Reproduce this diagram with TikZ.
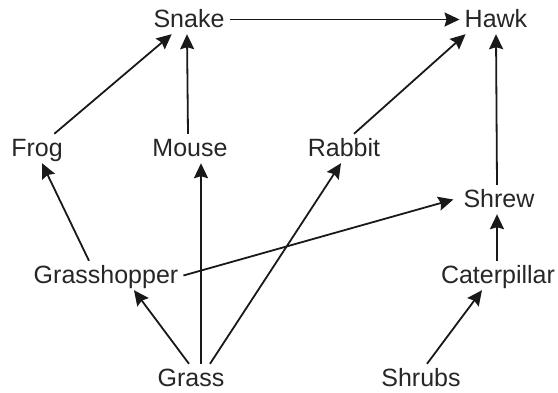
\documentclass[tikz,border=0pt]{standalone}
\usepackage{fontspec}
\setmainfont{Liberation Sans}
\usetikzlibrary{arrows.meta}
\usetikzlibrary{positioning}

\begin{document}
\begin{tikzpicture}[x=1pt,y=-1pt,
  animal/.style={font=\fontsize{25}{30}\selectfont,text=black!85,anchor=base,
    text height=17pt,text depth=0pt,inner xsep=5pt,inner ysep=6pt},
  feeds/.style={draw=black!90,line width=1.8pt,-{Stealth[length=15pt,width=14pt,inset=2pt]}}]
\useasboundingbox (0,0) rectangle (558,393);
% top row
\node[animal] (Snake) at (189,28) {Snake};
\node[animal] (Hawk) at (496,28) {Hawk};
% middle row
\node[animal] (Frog) at (37,157) {Frog};
\node[animal] (Mouse) at (190,157) {Mouse};
\node[animal] (Rabbit) at (344,157) {Rabbit};
\node[animal] (Shrew) at (499,208) {Shrew};
\node[animal] (Grasshopper) at (106,284) {Grasshopper};
\node[animal] (Caterpillar) at (498,284) {Caterpillar};
% producers
\node[animal] (Grass) at (191,387) {Grass};
\node[animal] (Shrubs) at (421,387) {Shrubs};

\draw[feeds] (Snake) -- (Hawk);
\draw[feeds] (Frog) -- (Snake);
\draw[feeds] ([xshift=-2pt]Mouse.north) -- ([xshift=-2pt]Snake.south);
\draw[feeds] ([xshift=10pt]Rabbit.north) -- ([xshift=6pt]Hawk.south west);
\draw[feeds] ([xshift=-2pt]Shrew.north) -- (Hawk.south);
\draw[feeds] ([xshift=-17pt]Grasshopper.north) -- ([xshift=5pt]Frog.south);
\draw[feeds] (Grasshopper.east) -- ([xshift=-5pt]Shrew.west);
\draw[feeds] ([xshift=-2pt]Grass.north) -- ([xshift=28pt]Grasshopper.south);
\draw[feeds] ([xshift=10pt]Grass.north) -- ([xshift=11pt]Mouse.south);
\draw[feeds] ([xshift=19pt]Grass.north) -- ([xshift=-3pt]Rabbit.south);
\draw[feeds] ([xshift=6pt]Shrubs.north) -- ([xshift=-16pt]Caterpillar.south);
\draw[feeds] ([xshift=-1pt]Caterpillar.north) -- ([xshift=-2pt]Shrew.south);

\end{tikzpicture}
\end{document}
